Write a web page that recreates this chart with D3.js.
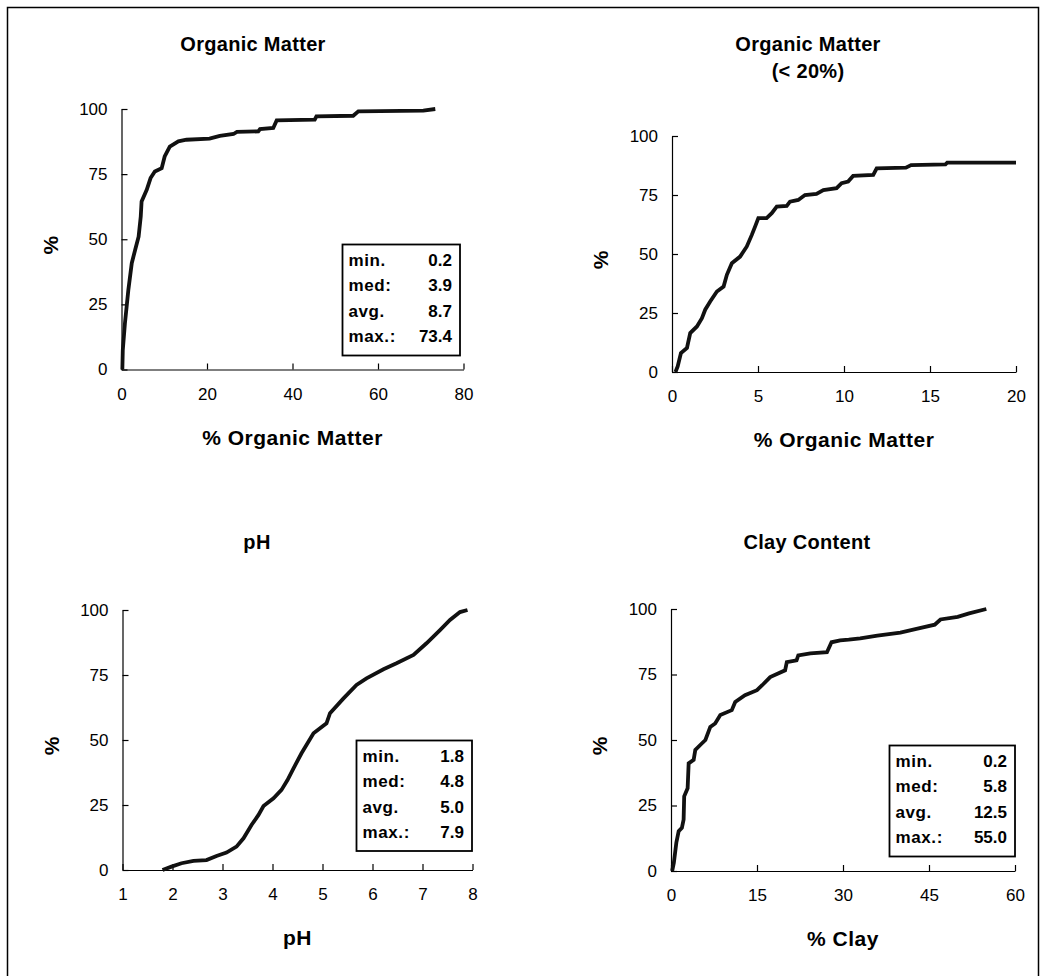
<!DOCTYPE html>
<html>
<head>
<meta charset="utf-8">
<script src="https://cdn.jsdelivr.net/npm/d3@7"></script>
<style>
  body { margin: 0; background: #fff; }
  svg text { font-family: "Liberation Sans", Arial, sans-serif; fill: #000; }
</style>
</head>
<body>
<div id="chart-area"></div>
<script>
// cumulative curves (x value, cumulative %)
var omX = [0.2, 0.3, 0.8, 1.6, 2.4, 3.2, 4.0, 4.5, 4.7, 5.9, 6.8, 7.8, 9.4, 10.1, 11.3, 13.3, 15.2, 20.6, 23, 26.2, 27, 32, 32.4, 35.5, 36.3, 45.2, 45.6, 54.2, 55.4, 70.6, 73.4]
var omY = [0, 7.4, 17.7, 30.5, 40.8, 46, 51, 58.7, 64.5, 69, 73.5, 76, 77.3, 81.8, 85.6, 87.6, 88.2, 88.6, 89.7, 90.4, 91.2, 91.4, 92.3, 92.7, 95.6, 95.9, 97.2, 97.4, 99.1, 99.4, 100]

var om20X = [0.2, 0.33, 0.52, 0.87, 1.06, 1.45, 1.74, 1.93, 2.22, 2.61, 3.0, 3.19, 3.48, 3.96, 4.35, 4.64, 4.83, 5.02, 5.5, 5.8, 6.09, 6.67, 6.86, 7.34, 7.73, 8.4, 8.8, 9.57, 9.86, 10.24, 10.53, 11.7, 11.9, 13.6, 13.9, 15.9, 16.0, 20]
var om20Y = [0, 2.4, 8, 10.2, 16.5, 19.3, 22.8, 26.4, 29.9, 34.1, 36.2, 41.2, 46.1, 48.9, 53.2, 58.1, 61.6, 65.2, 65.2, 67.3, 70.1, 70.4, 72.2, 72.9, 75, 75.5, 77.1, 77.9, 80, 80.7, 83.1, 83.5, 86.3, 86.6, 87.7, 88, 88.7, 88.7]

var phX = [1.8, 1.98, 2.18, 2.42, 2.68, 2.88, 3.08, 3.28, 3.42, 3.58, 3.72, 3.82, 4.02, 4.18, 4.3, 4.42, 4.58, 4.82, 5.08, 5.15, 5.42, 5.68, 5.88, 6.22, 6.48, 6.82, 7.08, 7.35, 7.55, 7.75, 7.9]
var phY = [0, 1.3, 2.6, 3.5, 3.8, 5.4, 6.7, 9, 12.2, 17.3, 21.2, 24.6, 27.6, 30.8, 34.6, 39.1, 44.9, 52.6, 56.4, 60.3, 66, 71.2, 73.7, 77.2, 79.5, 82.7, 87.2, 92.3, 96.2, 99.2, 100]

var clayX = [0.2, 0.5, 0.93, 1.34, 1.9, 2.2, 2.3, 2.9, 3.08, 3.95, 4.24, 5.1, 6.0, 6.85, 7.7, 8.6, 10.6, 11.2, 12.9, 15, 15.9, 17.3, 19.9, 20.2, 21.9, 22.2, 24.3, 27.2, 28, 29.5, 31, 33, 36, 40, 43, 46, 47, 50, 52, 55]
var clayY = [0, 3.2, 10.8, 15.2, 16.5, 19.6, 28.5, 31.6, 41.1, 42.4, 46.2, 48.1, 50, 55, 56.3, 59.5, 61.4, 64.5, 67.1, 69, 70.9, 74, 76.6, 79.7, 80.4, 82.3, 83.1, 83.5, 87.3, 88, 88.3, 88.8, 89.8, 91, 92.5, 94, 96, 97, 98.3, 100]

// tick labels
var pctTicks = [0, 25, 50, 75, 100]
var omTicks = [0, 20, 40, 60, 80]
var om20Ticks = [0, 5, 10, 15, 20]
var phTicks = [1, 2, 3, 4, 5, 6, 7, 8]
var clayTicks = [0, 15, 30, 45, 60]

// summary boxes
var statLabels = ["min.", "med:", "avg.", "max.:"]
var omStats = ["0.2", "3.9", "8.7", "73.4"]
var phStats = ["1.8", "4.8", "5.0", "7.9"]
var clayStats = ["0.2", "5.8", "12.5", "55.0"]

var svgWidth = 1045
var svgHeight = 976

var svg = d3.select("#chart-area")
	.append("svg")
	.attr("width", svgWidth)
	.attr("height", svgHeight)

svg.append("rect")
	.attr("x", 7.5).attr("y", 7.5)
	.attr("width", 1031).attr("height", 990)
	.attr("fill", "none")
	.attr("stroke", "#000")
	.attr("stroke-width", 1.5)

function drawPanel(p) {
	var x = d3.scaleLinear().domain([p.ticks[0], p.ticks[p.ticks.length - 1]]).range([p.left, p.right])
	var y = d3.scaleLinear().domain([0, 100]).range([p.bottom, p.top])

	var g = svg.append("g")

	var xAxis = g.append("g")
		.attr("transform", "translate(0," + p.bottom + ")")
		.call(d3.axisBottom(x).tickValues(p.ticks).tickFormat(d3.format("d"))
			.tickSizeInner(-6).tickSizeOuter(0).tickPadding(18))
	var yAxis = g.append("g")
		.attr("transform", "translate(" + p.left + ",0)")
		.call(d3.axisLeft(y).tickValues(pctTicks).tickSizeInner(-6).tickSizeOuter(0).tickPadding(14))

	;[xAxis, yAxis].forEach(function(a) {
		a.select(".domain").attr("stroke", "#000").attr("stroke-width", 1.2)
		a.selectAll(".tick line").attr("stroke", "#000").attr("stroke-width", 1.2)
		a.selectAll("text").attr("font-size", 17).attr("font-family", "Liberation Sans, Arial, sans-serif").attr("fill", "#000")
	})

	var line = d3.line()
		.x(function(d) { return x(d[0]) })
		.y(function(d) { return y(d[1]) })

	g.append("path")
		.datum(d3.zip(p.xs, p.ys))
		.attr("d", line)
		.attr("fill", "none")
		.attr("stroke", "#111")
		.attr("stroke-width", 3.8)
		.attr("stroke-linejoin", "miter")

	// titles
	p.title.forEach(function(t, i) {
		g.append("text")
			.attr("x", p.titleX)
			.attr("y", p.titleY + i * 27)
			.attr("text-anchor", "middle")
			.attr("font-size", 20)
			.attr("font-weight", "bold")
			.attr("letter-spacing", 0.3)
			.text(t)
	})
	g.append("text")
		.attr("x", (p.left + p.right) / 2)
		.attr("y", p.bottom + 75)
		.attr("text-anchor", "middle")
		.attr("font-size", 21)
		.attr("font-weight", "bold")
		.attr("letter-spacing", 0.5)
		.text(p.xTitle)
	g.append("text")
		.attr("transform", "translate(" + (p.left - 64) + "," + ((p.top + p.bottom) / 2 + 6) + ") rotate(-90)")
		.attr("text-anchor", "middle")
		.attr("font-size", 21)
		.attr("font-weight", "bold")
		.text("%")

	if (p.stats) {
		var bx = p.box[0], by = p.box[1], bw = p.box[2], bh = p.box[3]
		g.append("rect")
			.attr("x", bx).attr("y", by)
			.attr("width", bw).attr("height", bh)
			.attr("fill", "#fff")
			.attr("stroke", "#000")
			.attr("stroke-width", 1.8)
		statLabels.forEach(function(s, i) {
			g.append("text")
				.attr("x", bx + 6)
				.attr("y", by + 21 + i * 25.5)
				.attr("font-size", 17)
				.attr("font-weight", "bold")
				.attr("letter-spacing", 0.6)
				.text(s)
			g.append("text")
				.attr("x", bx + bw - 8)
				.attr("y", by + 21 + i * 25.5)
				.attr("text-anchor", "end")
				.attr("font-size", 17)
				.attr("font-weight", "bold")
				.text(p.stats[i])
		})
	}
}

drawPanel({ xs: omX, ys: omY, ticks: omTicks, left: 121.5, right: 463.5, top: 109, bottom: 369.5,
	title: ["Organic Matter"], titleX: 253, titleY: 51, xTitle: "% Organic Matter",
	stats: omStats, box: [342.5, 244.5, 117.5, 111] })

drawPanel({ xs: om20X, ys: om20Y, ticks: om20Ticks, left: 672, right: 1016, top: 136, bottom: 372,
	title: ["Organic Matter", "(< 20%)"], titleX: 808, titleY: 51, xTitle: "% Organic Matter" })

drawPanel({ xs: phX, ys: phY, ticks: phTicks, left: 122.5, right: 472.5, top: 610, bottom: 870,
	title: ["pH"], titleX: 257, titleY: 549, xTitle: "pH",
	stats: phStats, box: [356.5, 740.5, 115.5, 110.5] })

drawPanel({ xs: clayX, ys: clayY, ticks: clayTicks, left: 671, right: 1015, top: 609, bottom: 871,
	title: ["Clay Content"], titleX: 807, titleY: 549, xTitle: "% Clay",
	stats: clayStats, box: [889.5, 745.5, 125.5, 111] })
</script>
</body>
</html>
